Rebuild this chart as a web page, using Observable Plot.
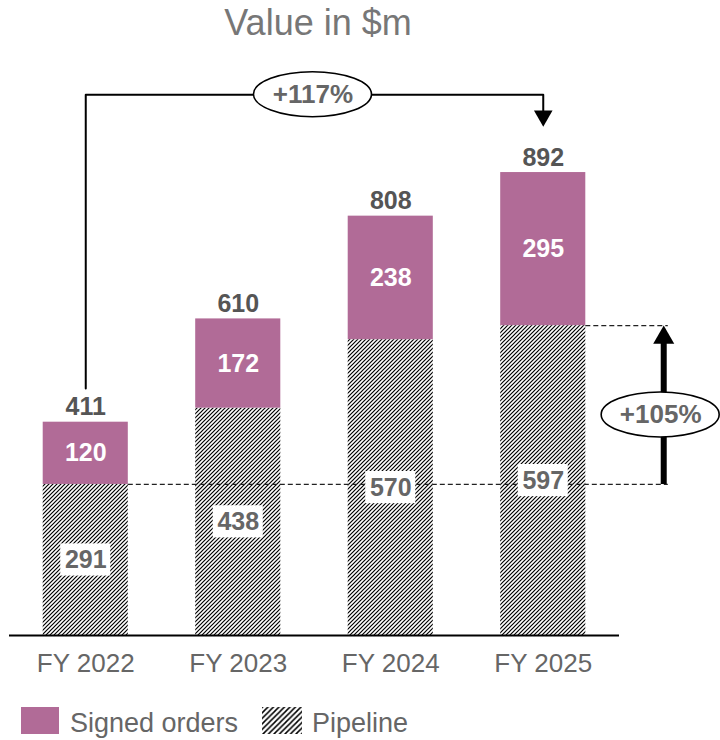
<!DOCTYPE html>
<html><head><meta charset="utf-8">
<script src="https://cdn.jsdelivr.net/npm/d3@7"></script>
<script src="https://cdn.jsdelivr.net/npm/@observablehq/plot@0.6"></script>
<style>
body{margin:0;background:#fff;font-family:"Liberation Sans",Arial,sans-serif;}
#wrap{position:relative;width:720px;height:740px;overflow:hidden;background:#fff;}
#title{position:absolute;left:0;top:2px;width:636px;text-align:center;font-size:36px;color:#777;}
#chart{position:absolute;left:0;top:45px;}
#legend{position:absolute;left:0;top:700px;}
</style></head><body>
<div id="wrap"><div id="title">Value in $m</div><div id="chart"></div><div id="legend"></div></div>
<script>
// ---- data ----
const categories = ["FY 2022", "FY 2023", "FY 2024", "FY 2025"];
const pipeline = [291, 438, 570, 597];
const signed = [120, 172, 238, 295];
const totals = [411, 610, 808, 892];
const seriesNames = ["Signed orders", "Pipeline"];
const growthLabels = ["+117%", "+105%"];

// ---- styling constants ----
const purple = "#B16B97";
const half = 0.279;        // half bar width (band units)
const annoX = 3.79;        // column of the right-hand annotation
const dashEnd = 3.82;

const rows = categories.map((c, i) => ({i, cat: c, pipeline: pipeline[i], signed: signed[i], total: totals[i]}));
const last = categories.length - 1;

const bracketTop = d3.max(totals) + 150;
const bracket = [
  {x: 0, y: totals[0] + 65},
  {x: 0, y: bracketTop},
  {x: last, y: bracketTop},
  {x: last, y: bracketTop - 35}
];
const downHead = [{x: last, y: bracketTop - 41}];
const upHead = [{x: annoX, y: pipeline[last] - 23}];
const upShaft = [{x: annoX, y1: pipeline[0], y2: pipeline[last] - 25}];
const refLines = [{from: 0, value: pipeline[0]}, {from: last, value: pipeline[last]}];
const ellipses = [
  {x: 1.49, y: bracketTop, label: growthLabels[0]},
  {x: annoX - 0.02, y: (pipeline[0] + pipeline[last]) / 2 - 19, label: growthLabels[1]}
];

function ellipseMark(index, scales) {
  const g = d3.create("svg:g");
  for (const e of ellipses) {
    g.append("ellipse")
      .attr("cx", scales.x(e.x)).attr("cy", scales.y(e.y))
      .attr("rx", 59).attr("ry", 22.5)
      .attr("fill", "white").attr("stroke", "black").attr("stroke-width", 1.6);
  }
  return g.node();
}

const chart = Plot.plot({
  width: 720,
  height: 640,
  marginLeft: 9,
  marginRight: 101,
  marginTop: 71,
  marginBottom: 50,
  style: {fontFamily: "'Liberation Sans', Arial, sans-serif", color: "#666", background: "white", overflow: "visible"},
  x: {domain: [-0.5, 3.5]},
  y: {domain: [0, 1000], axis: null},
  marks: [
    Plot.rect(rows, {x1: d => d.i - half, x2: d => d.i + half, y1: d => 0, y2: "pipeline", fill: "url(#hatch)"}),
    Plot.rect(rows, {x1: d => d.i - half, x2: d => d.i + half, y1: "pipeline", y2: "total", fill: purple}),
    Plot.ruleY(refLines, {y: "value", x1: d => d.from + half, x2: dashEnd, stroke: "#222", strokeWidth: 1.2, strokeDasharray: "5,3"}),
    Plot.rect(rows, {x1: d => d.i - 0.164, x2: d => d.i + 0.164, y1: d => d.pipeline / 2 - 31, y2: d => d.pipeline / 2 + 31, fill: "white"}),
    Plot.text(rows, {x: "i", y: d => d.pipeline / 2, text: d => String(d.pipeline), fill: "#666", fontWeight: "bold", fontSize: 25}),
    Plot.text(rows, {x: "i", y: d => d.pipeline + d.signed / 2, text: d => String(d.signed), fill: "white", fontWeight: "bold", fontSize: 25}),
    Plot.text(rows, {x: "i", y: "total", dy: -15, text: d => String(d.total), fill: "#555", fontWeight: "bold", fontSize: 25}),
    Plot.ruleY([0], {stroke: "black", strokeWidth: 2}),
    Plot.line(bracket, {x: "x", y: "y", stroke: "black", strokeWidth: 2, curve: "linear"}),
    Plot.dot(downHead, {x: "x", y: "y", symbol: "triangle", r: 6.9, fill: "black", stroke: null, rotate: 180}),
    Plot.ruleX(upShaft, {x: "x", y1: "y1", y2: "y2", stroke: "black", strokeWidth: 6}),
    Plot.dot(upHead, {x: "x", y: "y", symbol: "triangle", r: 7.8, fill: "black", stroke: null}),
    ellipseMark,
    Plot.text(ellipses, {x: "x", y: "y", text: "label", fill: "#666", fontWeight: "bold", fontSize: 26}),
    Plot.axisX({ticks: rows.map(d => d.i), tickFormat: i => categories[i], tickSize: 0, tickPadding: 18, fontSize: 26, label: null})
  ]
});

// hatch pattern definition
const ns = "http://www.w3.org/2000/svg";
const defs = document.createElementNS(ns, "defs");
defs.innerHTML = '<pattern id="hatch" patternUnits="userSpaceOnUse" width="4" height="4">' +
  '<rect width="4" height="4" fill="white"/>' +
  '<path d="M-1,1 l2,-2 M0,4 l4,-4 M3,5 l2,-2" stroke="black" stroke-width="1.2"/></pattern>';
chart.insertBefore(defs, chart.firstChild);
document.getElementById("chart").appendChild(chart);

// legend
const leg = d3.select("#legend").append("svg").attr("width", 720).attr("height", 40);
leg.append("defs").html('<pattern id="hatchL" patternUnits="userSpaceOnUse" width="5.5" height="5.5">' +
  '<rect width="5.5" height="5.5" fill="white"/>' +
  '<path d="M-1,1 l2,-2 M0,5.5 l5.5,-5.5 M4.5,6.5 l2,-2" stroke="black" stroke-width="1.5"/></pattern>');
leg.append("rect").attr("x", 21).attr("y", 7).attr("width", 38).attr("height", 27).attr("fill", purple);
leg.append("text").attr("x", 70).attr("y", 32).attr("font-size", 27).attr("fill", "#666")
  .attr("font-family", "'Liberation Sans', Arial, sans-serif").text(seriesNames[0]);
leg.append("rect").attr("x", 262).attr("y", 7).attr("width", 40).attr("height", 27).attr("fill", "url(#hatchL)");
leg.append("text").attr("x", 312).attr("y", 32).attr("font-size", 27).attr("fill", "#666")
  .attr("font-family", "'Liberation Sans', Arial, sans-serif").text(seriesNames[1]);
</script>
</body></html>
